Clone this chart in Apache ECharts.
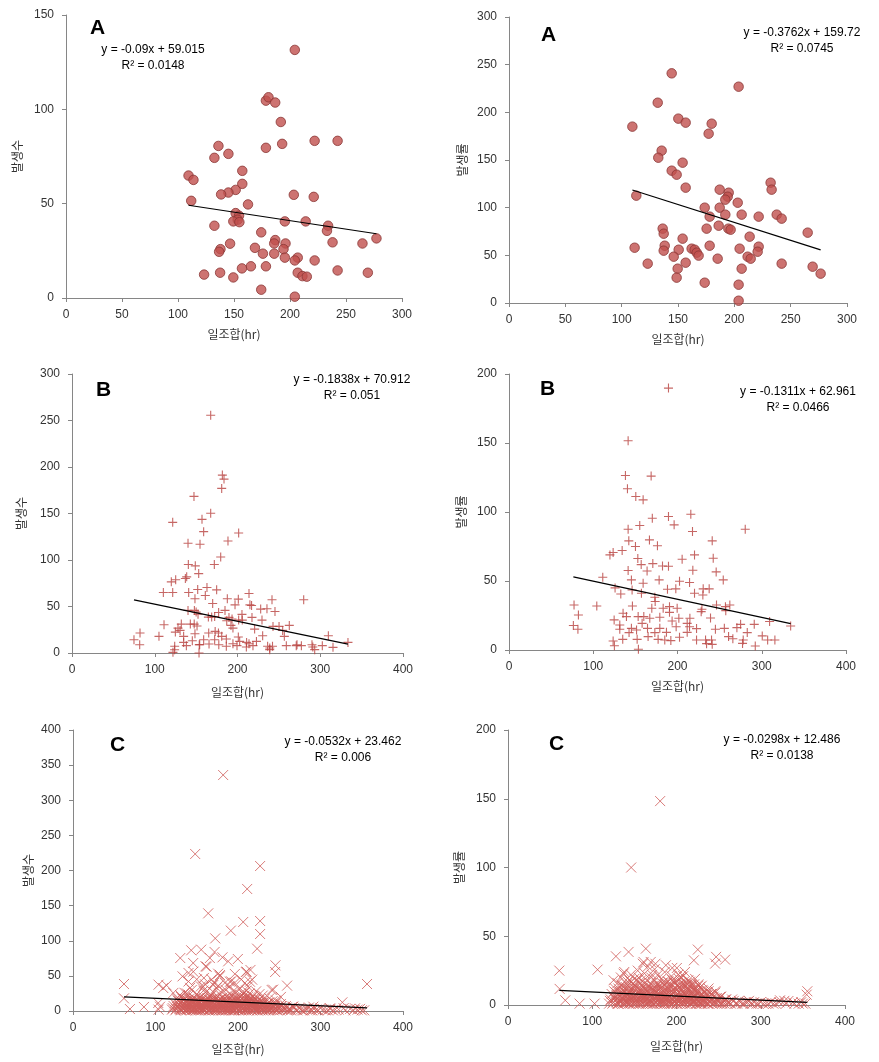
<!DOCTYPE html>
<html><head><meta charset="utf-8">
<script src="https://cdn.jsdelivr.net/npm/echarts@6/dist/echarts.min.js"></script>
<style>html,body{margin:0;padding:0;background:#fff}#c{width:879px;height:1062px}</style>
</head><body><div id="c"></div>
<script>
// ---------- data ----------
const xAxisName = '일조합(hr)';
const yAxisNames = ['발생수', '발생률', '발생수', '발생률', '발생수', '발생률'];
const panelLetters = ['A', 'A', 'B', 'B', 'C', 'C'];
const xMaxes = [300, 300, 400, 400, 400, 400];
const xIntervals = [50, 50, 100, 100, 100, 100];
const yMaxes = [150, 300, 300, 200, 400, 200];
const yIntervals = [50, 50, 50, 50, 50, 50];
const slopes = [-0.09, -0.3762, -0.1838, -0.1311, -0.0532, -0.0298];
const intercepts = [59.015, 159.72, 70.912, 62.961, 23.462, 12.486];
const eqLabels = ['y = -0.09x + 59.015', 'y = -0.3762x + 159.72', 'y = -0.1838x + 70.912', 'y = -0.1311x + 62.961', 'y = -0.0532x + 23.462', 'y = -0.0298x + 12.486'];
const r2Labels = ['R² = 0.0148', 'R² = 0.0745', 'R² = 0.051', 'R² = 0.0466', 'R² = 0.006', 'R² = 0.0138'];

const aCount = [[204.3,131.5],[178.5,104.6],[180.8,106.4],[186.8,103.6],[191.8,93.3],[136.1,80.6],[178.5,79.6],[193,81.7],[222,83.3],[242.5,83.3],[145,76.4],[132.5,74.3],[109.4,64.9],[113.8,62.6],[157.4,67.4],[157.4,60.5],[151.5,57.3],[145,55.9],[138.5,54.9],[203.4,54.7],[221.2,53.6],[111.8,51.5],[162.5,49.6],[151.5,45],[154.5,43.6],[153.3,41.5],[149.4,40.6],[154.8,40.2],[195.4,40.6],[214,40.6],[132.5,38.3],[234,38.3],[233,35.6],[174.3,34.8],[277.2,31.6],[238,29.5],[264.7,28.9],[146.5,28.8],[186.8,30.7],[185.9,28.9],[196,28.9],[168.7,26.6],[137.9,25.9],[136.7,24.5],[194.2,25.9],[175.8,23.5],[185.9,23.5],[195.4,21.4],[206.9,21.4],[204.3,19.9],[222,19.9],[178.5,16.8],[165.1,16.8],[157.1,15.7],[242.5,14.6],[137.6,13.4],[206.9,13.4],[269.5,13.4],[123.3,12.4],[211.1,11.6],[215,11.3],[149.4,10.9],[174.3,4.4],[204.3,0.7]];

const aRate = [[144.4,240.9],[203.8,226.9],[132,210.1],[150.3,193.4],[156.8,189.2],[179.9,188.1],[109.5,185],[177.2,177.6],[135.5,159.8],[132.5,152.4],[154.1,147.2],[144.4,138.8],[148.8,134.6],[232.2,126.2],[233.1,118.9],[156.8,121],[187,118.9],[195,115.7],[194.1,111.5],[192,108.4],[113,112.6],[203,105.2],[173.7,100],[187,100],[192,92.7],[206.5,92.7],[237.6,92.7],[178.1,90.6],[221.6,90.6],[242,88.5],[265.1,73.8],[136.4,78],[137.3,72.7],[175.4,78],[186.1,81.1],[194.7,78],[196.7,76.9],[213.6,69.6],[154.1,67.5],[111.5,58],[138.2,60.1],[137.3,54.9],[150.6,55.9],[178.1,60.1],[162.1,57],[164.8,55.9],[166.6,52.8],[168.3,49.7],[204.7,57],[221.6,59.1],[220.7,53.8],[146.2,48.6],[211.8,48.6],[214.5,46.5],[185.2,46.5],[156.8,42.3],[123.1,41.3],[242,41.3],[149.7,36],[206.5,36],[269.5,38.1],[276.6,30.8],[148.8,26.6],[173.7,21.3],[203.8,19.2],[203.8,2.4]];

const bCount = [[167.6,255.6],[181.7,191.3],[183.7,187],[180.9,177],[147.4,168.4],[167.6,150.2],[157.1,143.7],[121.7,140.5],[159.1,130.5],[201.4,129.1],[188.5,120.5],[140.2,118],[154.7,116.9],[179.7,103.3],[140.6,95.1],[149,93.7],[172,95.1],[153.1,85.4],[138.6,81.9],[137,80.1],[125.3,78.7],[120,76.5],[163.1,70.4],[151.9,68.3],[174.8,67.9],[110.4,65.1],[121.7,65.1],[141,65.1],[161.1,61.9],[213.9,64],[280,57.2],[187.7,58.3],[201,57.9],[241.7,57.2],[148.6,58.3],[215,51.8],[217,51.1],[197,51.8],[170,53.3],[140.2,45.8],[147.9,45.8],[150,44],[152.3,41.8],[245.3,44.7],[228,47.2],[235.6,47.6],[184.9,45.8],[177.2,43.6],[172.4,39.3],[164.8,38.6],[168.8,38.6],[189.7,38.3],[205.4,41.5],[217.5,38.3],[229.6,35.4],[187,34.7],[193.4,36.5],[201.4,35.4],[205.8,35.4],[111.2,30.4],[132.1,31.1],[143,31.1],[147.7,31.1],[151.1,29],[192.1,29.7],[194.5,26.8],[220.7,25.7],[242.9,28.6],[250.2,28.6],[262.6,29.7],[254.6,24.3],[256.6,17.9],[309.8,18.6],[128.1,26.8],[130.6,24.3],[124.9,22.5],[82.2,21.5],[105.1,17.9],[74.9,14.3],[81.8,8.9],[134.9,17.9],[148.6,20.7],[165.2,21.5],[173,23.2],[177,21.5],[186.5,15],[180.9,17.9],[201,17.2],[211,11.4],[213.9,10],[230.4,18.6],[159.1,14.3],[153.8,8.9],[165.6,9.7],[177.4,8.9],[194.5,10],[199.4,7.9],[218.7,7.9],[236.4,7.2],[242.3,7.2],[259,7.9],[271.9,8.9],[277.2,7.9],[290,8.9],[302.5,7.9],[315.4,6.1],[333.5,11.4],[122,0.7],[153.5,0],[138.2,7.9],[124.1,7.2],[134.9,11.4],[145.4,13.2],[238.9,3.6],[293.3,3.6],[210.7,6.4],[186.5,7.2],[172.4,14.3],[202.6,12.5],[222.9,12.5],[124,3.5],[154.3,9],[239,5.4],[271,7.9],[291,6.4]];

const bRate = [[189.3,189.8],[141.4,151.6],[138.2,126.5],[168.7,126],[140.6,116.8],[150.5,111.2],[159.2,108.8],[215.8,98.4],[189.3,96.7],[170.1,95.5],[196,90.7],[155.2,90.2],[280.4,87.5],[141.4,87.5],[217.8,85.9],[241.2,79.1],[142.2,79.1],[166.7,79.8],[176.2,75.5],[150.1,75],[134.3,72.1],[123.6,70.6],[119.8,68.9],[220.2,68.9],[242.4,66.5],[205.5,65.8],[152.9,66.3],[170.7,62.6],[182.2,60.9],[189.3,60.7],[218.2,57.8],[245.9,56.6],[163.9,57.3],[141.4,57.6],[156.9,61.9],[254.3,50.8],[111.3,52.7],[214.3,48.9],[202.4,49.8],[178.2,50.8],[145.3,50.8],[159.2,48.4],[125.9,45],[230.5,44.3],[237.6,44.3],[188.1,44],[198,44.3],[132.7,40.6],[157.2,41.1],[146.1,43.5],[220.2,41.1],[230.1,39.9],[173.1,38.2],[173.5,35.1],[104.2,31.9],[77.2,32.6],[82.4,25.4],[76.4,17.7],[81.8,15],[246.3,32.6],[256.9,31.4],[262.1,32.6],[257.3,28.5],[229,29.5],[228.1,27.8],[190.5,31.4],[199.6,30.2],[183,30.2],[169.5,30.2],[146.5,31.9],[135.4,26.6],[139.4,24.2],[153.3,24.2],[124.8,21.8],[201.6,23],[214.7,23],[239.2,23.2],[193.6,21],[167.1,23],[158,19.3],[131.5,18.1],[131.5,15],[145.3,15.7],[164.4,15.7],[179,15.7],[198.4,16.9],[214.3,16.9],[222.6,15.5],[245,15],[255.6,15.7],[270.5,16.2],[274.9,18.6],[291.1,18.6],[282.8,12.6],[300.6,10.2],[309.3,20.6],[334.3,17.4],[307,7.3],[315.6,7.3],[278,7.3],[277.2,4.8],[292.3,2.9],[260.6,9.7],[265.7,8.2],[233.3,7.3],[240.4,7.3],[234.5,4.6],[241.2,4.1],[222.6,7.3],[202.4,9.2],[192.1,6.8],[184.9,7.3],[177,7.7],[165.1,9.7],[152.1,7.7],[135,7.7],[123.6,6.5],[125.1,3.1],[153.6,0.5],[151.4,14.5],[173.1,12.6],[186.9,12.8],[211.5,12.8],[142.5,12.6],[160,24.2],[179,23.7],[211.5,19.3],[190.5,27.3]];

const cCount = [[182,335.9],[148.1,223.5],[226.8,206.4],[211.1,173.7],[163.9,139],[206.3,126.7],[226.8,128.1],[191.3,114.4],[226.8,109.6],[172.4,103.4],[223.2,88.7],[143.3,86.4],[155.4,87.3],[130,75.4],[171.6,84],[181.2,76.4],[199.8,74],[188.1,70.7],[245.4,65],[245,55.5],[176,53.1],[178,49.3],[209.5,55.5],[215.1,58.4],[217.2,44.6],[196.2,52.7],[132.8,49.3],[140,54.1],[145.7,68.3],[160.6,63.6],[165.9,75.4],[158.6,47],[191.7,42.2],[208.3,39.9],[61.8,38.4],[61.8,18],[356.4,38.4],[259.5,36.1],[242.6,30.4],[326.5,12.3],[69,2.8],[86,5.7],[103.7,37.5],[109.4,32.7],[103.3,11.4],[103.7,1.9],[113.4,36.5],[121.5,25.6],[129.7,22.8],[105.5,6.1],[145.8,56],[162,63.1],[178.2,51.2],[210.5,56],[214.5,41.7],[190.3,41.7],[170,37],[158,34.6],[240.8,29.9],[291.3,6.1],[267,6.1],[311.5,3.8],[341.8,3.8],
[125,3],[127,8],[128,14],[130,2],[131,20],[132,5],[134,11],[135,26],[136,1],[137,7],[138,16],[139,3],[140,22],[141,9],[142,4],[143,13],[144,30],[145,2],[146,6],[147,18],[148,10],[149,1],[150,24],[151,5],[152,12],[153,3],[154,8],[155,35],[156,15],[157,2],[158,20],[159,6],[160,11],[161,4],[162,28],[163,9],[164,1],[165,16],[166,7],[167,3],[168,22],[169,12],[170,5],[171,40],[172,2],[173,18],[174,8],[175,14],[176,3],[177,25],[178,10],[179,6],[180,1],[181,19],[182,4],[183,13],[184,8],[185,30],[186,2],[187,11],[188,6],[189,17],[190,3],[191,9],[192,23],[193,5],[194,1],[195,14],[196,7],[197,27],[198,4],[199,12],[200,2],[201,18],[202,8],[203,5],[204,22],[205,10],[206,3],[207,15],[208,26],[209,6],[210,1],[211,12],[212,20],[213,4],[214,9],[215,16],[216,2],[217,7],[218,13],[219,3],[220,19],[221,5],[222,10],[223,1],[224,14],[225,6],[226,24],[227,3],[228,9],[229,2],[230,12],[231,5],[232,17],[233,1],[234,8],[235,4],[236,11],[238,2],[240,6],[242,14],[244,3],[246,8],[248,1],[250,5],[252,10],[254,2],[256,4],[258,7],[260,1],[263,3],[266,6],[270,2],[274,4],[278,1],[282,3],[286,5],[290,1],[295,2],[300,4],[306,1],[312,3],[318,2],[330,1],[336,3],[345,2],[350,1],
[130,12],[133,17],[138,25],[142,33],[146,14],[150,9],[154,19],[158,29],[162,14],[166,21],[170,27],[174,33],[178,17],[182,29],[186,21],[190,35],[194,28],[198,19],[202,31],[206,25],[210,29],[214,25],[218,21],[222,28],[208,22],[212,35],[160,38],[168,45],[176,36],[184,40],[196,40],[204,45],[140,42],[150,45],[230,22],[238,18],[246,15],[252,20],[126,18],[122,7],[120,2],
[121,4],[123,11],[124,1],[126,6],[127,15],[129,3],[129,9],[130,7],[131,1],[132,13],[133,4],[133,9],[134,2],[135,6],[135,17],[136,10],[137,3],[137,12],[138,1],[138,7],[139,14],[140,5],[140,11],[141,2],[141,17],[142,8],[143,1],[143,5],[144,10],[144,15],[145,7],[145,12],[146,2],[146,19],[147,4],[147,9],[148,3],[148,14],[149,7],[149,11],[150,2],[150,16],[151,8],[151,13],[152,1],[152,5],[153,10],[153,19],[154,3],[154,13],[155,6],[155,1],[156,9],[156,4],[157,12],[157,17],[158,2],[158,8],[159,11],[159,15],[160,1],[160,5],[161,9],[161,14],[162,3],[162,7],[163,12],[163,18],[164,5],[164,9],[165,2],[165,13],[166,1],[166,11],[167,6],[167,15],[168,3],[168,9],[169,1],[169,17],[170,8],[170,12],[171,2],[171,6],[172,10],[172,15],[173,4],[173,1],[174,12],[174,19],[175,2],[175,7],[176,10],[176,15],[177,1],[177,5],[178,13],[178,3],[179,9],[179,16],[180,6],[180,11],[181,2],[181,14],[182,8],[182,1],[183,5],[183,17],[184,3],[184,11],[185,7],[185,1],[186,12],[186,16],[187,4],[187,2],[188,9],[188,14],[189,1],[189,6],[190,11],[190,18],[191,3],[191,13],[192,7],[192,1],[193,10],[193,15],[194,4],[194,8],[195,2],[195,19],[196,12],[196,1],[197,6],[197,10],[198,14],[198,3],[199,8],[199,17],[200,5],[200,12],[201,1],[201,9],[202,15],[202,3],[203,10],[203,20],[204,6],[204,1],[205,13],[205,17],[206,8],[206,4],[207,1],[207,11],[208,6],[208,14],[209,2],[209,18],[210,9],[210,5],[211,3],[211,15],[212,7],[212,11],[213,1],[213,16],[214,5],[214,13],[215,3],[215,8],[216,12],[216,18],[217,1],[217,10],[218,6],[218,15],[219,9],[219,4],[220,2],[220,13],[221,7],[221,16],[222,3],[222,12],[223,8],[223,5],[224,1],[224,10],[225,12],[225,3],[226,7],[226,16],[227,1],[227,11],[228,5],[228,14],[229,8],[229,3],[230,1],[230,9],[231,12],[232,4],[233,7],[234,2],[235,10],[236,5],[237,1],[237,8],[238,12],[239,4],[240,2],[241,9],[242,5],[243,1],[244,7],[245,3],[246,11],[247,2],[248,6],[249,4],[251,1],[253,7],[255,3],[257,2],[259,5],[261,2],[264,1],[268,4],[272,1],[276,2],[280,1],[284,3],[288,1],[292,3],[297,1],[303,2],[309,1],[315,1],[322,2],[328,4],[340,1],[348,3],[353,1]];

const cRate = [[180.6,148.3],[146.2,100],[163.6,41],[143.1,38.6],[225.3,40.3],[128.1,35.4],[247,35],[257.7,33],[245.8,30.1],[60.9,25],[106.3,25.7],[169.4,31.3],[200.4,26.9],[187.4,28.9],[61.3,11.7],[68,3.4],[85,1],[102.8,1],[354.5,7.5],[355.3,10],[322.9,3.4],[332.8,2.9],[160.9,31.3],[220.6,32.5],[125.3,18],[137.2,22.8],
[125,2],[127,5],[128,9],[130,1],[131,12],[132,3],[134,7],[135,15],[136,1],[137,4],[138,10],[139,2],[140,13],[141,6],[142,2],[143,8],[144,18],[145,1],[146,4],[147,11],[148,6],[149,1],[150,14],[151,3],[152,8],[153,2],[154,5],[155,20],[156,9],[157,1],[158,12],[159,4],[160,7],[161,2],[162,16],[163,6],[164,1],[165,10],[166,4],[167,2],[168,13],[169,8],[170,3],[171,22],[172,1],[173,11],[174,5],[175,9],[176,2],[177,15],[178,6],[179,4],[180,1],[181,12],[182,3],[183,8],[184,5],[185,17],[186,1],[187,7],[188,4],[189,10],[190,2],[191,6],[192,14],[193,3],[194,1],[195,9],[196,4],[197,16],[198,2],[199,7],[200,1],[201,11],[202,5],[203,3],[204,13],[205,6],[206,2],[207,9],[208,15],[209,4],[210,1],[211,7],[212,12],[213,3],[214,6],[215,10],[216,1],[217,4],[218,8],[219,2],[220,11],[221,3],[222,6],[223,1],[224,9],[225,4],[226,14],[227,2],[228,6],[229,1],[230,7],[231,3],[232,10],[233,1],[234,5],[235,2],[236,7],[238,1],[240,4],[242,8],[244,2],[246,5],[248,1],[250,3],[252,6],[254,1],[256,3],[258,4],[260,1],[263,2],[266,4],[270,1],[274,3],[278,1],[282,2],[286,3],[290,1],[295,1],[300,2],[306,1],[312,2],[318,1],[330,1],[338,2],[345,1],[350,1],
[130,16],[134,20],[138,24],[142,17],[146,22],[150,19],[154,25],[158,18],[162,23],[166,28],[170,20],[174,26],[178,22],[182,19],[186,24],[190,17],[194,21],[198,18],[202,22],[206,20],[210,24],[214,18],[218,15],[222,19],[208,21],[212,16],[160,30],[175,30],[195,27],[230,14],[238,12],[246,10],[126,10],[122,4],[120,1],
[121,3],[123,8],[124,1],[126,5],[127,12],[129,2],[129,7],[130,5],[131,1],[132,10],[133,3],[133,7],[134,2],[135,5],[135,14],[136,8],[137,2],[137,10],[138,1],[138,6],[139,12],[140,4],[140,9],[141,2],[141,15],[142,7],[143,1],[143,4],[144,9],[144,13],[145,6],[145,11],[146,2],[146,17],[147,4],[147,8],[148,3],[148,12],[149,6],[149,10],[150,2],[150,15],[151,7],[151,12],[152,1],[152,4],[153,9],[153,18],[154,3],[154,12],[155,5],[155,1],[156,8],[156,4],[157,11],[157,16],[158,2],[158,7],[159,10],[159,14],[160,1],[160,5],[161,8],[161,13],[162,3],[162,6],[163,11],[163,19],[164,4],[164,8],[165,2],[165,12],[166,1],[166,10],[167,5],[167,14],[168,3],[168,8],[169,1],[169,16],[170,7],[170,11],[171,2],[171,5],[172,9],[172,14],[173,4],[173,1],[174,11],[174,18],[175,2],[175,6],[176,9],[176,14],[177,1],[177,5],[178,12],[178,3],[179,8],[179,15],[180,5],[180,10],[181,2],[181,13],[182,7],[182,1],[183,4],[183,16],[184,3],[184,10],[185,6],[185,1],[186,11],[186,15],[187,4],[187,2],[188,8],[188,13],[189,1],[189,5],[190,10],[190,17],[191,3],[191,12],[192,6],[192,1],[193,9],[193,14],[194,4],[194,7],[195,2],[195,18],[196,11],[196,1],[197,5],[197,9],[198,13],[198,3],[199,7],[199,16],[200,4],[200,11],[201,1],[201,8],[202,14],[202,3],[203,9],[203,19],[204,5],[204,1],[205,12],[205,16],[206,7],[206,4],[207,1],[207,10],[208,5],[208,13],[209,2],[209,17],[210,8],[210,4],[211,3],[211,14],[212,6],[212,10],[213,1],[213,15],[214,4],[214,12],[215,3],[215,7],[216,11],[216,17],[217,1],[217,9],[218,5],[218,14],[219,8],[219,3],[220,2],[220,12],[221,6],[221,15],[222,3],[222,11],[223,7],[223,4],[224,1],[224,9],[225,11],[225,3],[226,6],[226,15],[227,1],[227,10],[228,4],[228,13],[229,7],[229,2],[230,1],[230,8],[231,11],[232,3],[233,6],[234,2],[235,9],[236,4],[237,1],[237,7],[238,10],[239,3],[240,2],[241,8],[242,4],[243,1],[244,6],[245,2],[246,9],[247,2],[248,5],[249,3],[251,1],[253,6],[255,2],[257,1],[259,4],[261,2],[264,1],[268,3],[272,1],[276,2],[280,1],[284,2],[288,1],[292,2],[297,1],[303,1],[309,1],[315,1],[322,2],[328,3],[340,1],[348,2],[353,1]];

const panelData = [aCount, aRate, bCount, bRate, cCount, cRate];

// ---------- layout / style ----------
const grids = [
  {left: 66, top: 15, width: 336, height: 283},
  {left: 509, top: 17, width: 338, height: 286},
  {left: 72, top: 374, width: 331, height: 279},
  {left: 509, top: 374, width: 337, height: 276},
  {left: 73, top: 730, width: 330, height: 281},
  {left: 508, top: 730, width: 337, height: 275}
];
const xNameGaps = [30, 30, 33, 30, 32, 35];
const yNameGaps = [43, 41, 45, 42, 39, 43];
const letterPos = [[98, 31], [549, 38], [104, 393], [548, 392], [118, 748], [557, 747]];
const eqPos = [[153, 51], [802, 34], [352, 381], [798, 393], [343, 743], [782, 741]];
const markerStyles = [
  {symbol: 'circle', symbolSize: 9.5, itemStyle: {color: '#C0504D', borderColor: '#8A3634', borderWidth: 1}},
  {symbol: 'circle', symbolSize: 9.5, itemStyle: {color: '#C0504D', borderColor: '#8A3634', borderWidth: 1}},
  {symbol: 'path://M5,0L5,10M0,5L10,5', symbolSize: 9, itemStyle: {color: 'rgba(0,0,0,0)', borderColor: '#B8413F', borderWidth: 1.1}},
  {symbol: 'path://M5,0L5,10M0,5L10,5', symbolSize: 9, itemStyle: {color: 'rgba(0,0,0,0)', borderColor: '#B8413F', borderWidth: 1.1}},
  {symbol: 'path://M0,0L10,10M10,0L0,10', symbolSize: 10, itemStyle: {color: 'rgba(0,0,0,0)', borderColor: '#CF5B59', borderWidth: 1}},
  {symbol: 'path://M0,0L10,10M10,0L0,10', symbolSize: 10, itemStyle: {color: 'rgba(0,0,0,0)', borderColor: '#CF5B59', borderWidth: 1}}
];

const latin = '"Liberation Sans", Arial, sans-serif';
const kr = '"Noto Sans CJK KR", "Noto Sans", sans-serif';
const axisLine = {show: true, lineStyle: {color: '#868686', width: 1}};
const axisTick = {show: true, inside: false, length: 4, lineStyle: {color: '#868686'}};
const axisLabel = {color: '#333', fontSize: 12, fontFamily: latin};

const xAxes = [], yAxes = [], series = [], graphics = [];
for (let i = 0; i < 6; i++) {
  xAxes.push({
    type: 'value', gridIndex: i, min: 0, max: xMaxes[i], interval: xIntervals[i],
    name: xAxisName, nameLocation: 'middle', nameGap: xNameGaps[i],
    nameTextStyle: {fontFamily: kr, fontSize: 12, color: '#333'},
    axisLine, axisTick, axisLabel: Object.assign({margin: 11}, axisLabel), splitLine: {show: false}
  });
  yAxes.push({
    type: 'value', gridIndex: i, min: 0, max: yMaxes[i], interval: yIntervals[i],
    name: yAxisNames[i], nameLocation: 'middle', nameGap: yNameGaps[i], nameRotate: 90,
    nameTextStyle: {fontFamily: kr, fontSize: 12, color: '#333'},
    axisLine, axisTick, axisLabel: Object.assign({margin: 12}, axisLabel), splitLine: {show: false}
  });
  const d = panelData[i];
  series.push(Object.assign({
    type: 'scatter', xAxisIndex: i, yAxisIndex: i, data: d, silent: true, z: 2
  }, markerStyles[i]));
  const xs = d.map(p => p[0]);
  const x0 = Math.min(...xs), x1 = Math.max(...xs);
  series.push({
    type: 'line', xAxisIndex: i, yAxisIndex: i, symbol: 'none', silent: true, z: 3,
    data: [[x0, slopes[i] * x0 + intercepts[i]], [x1, slopes[i] * x1 + intercepts[i]]],
    lineStyle: {color: '#000', width: 1.2}
  });
  graphics.push({
    type: 'text', left: letterPos[i][0] - 8, top: letterPos[i][1] - 13,
    style: {text: panelLetters[i], font: 'bold 21px ' + latin, fill: '#000'}
  });
  graphics.push({
    type: 'text', x: eqPos[i][0], y: eqPos[i][1] - 7,
    style: {text: eqLabels[i], font: '12px ' + latin, fill: '#000', textAlign: 'center'}
  });
  graphics.push({
    type: 'text', x: eqPos[i][0], y: eqPos[i][1] + 9,
    style: {text: r2Labels[i], font: '12px ' + latin, fill: '#000', textAlign: 'center'}
  });
}

const chart = echarts.init(document.getElementById('c'), null, {renderer: 'canvas'});
chart.setOption({
  animation: false,
  backgroundColor: '#fff',
  grid: grids,
  xAxis: xAxes,
  yAxis: yAxes,
  series: series,
  graphic: graphics
});
</script></body></html>
